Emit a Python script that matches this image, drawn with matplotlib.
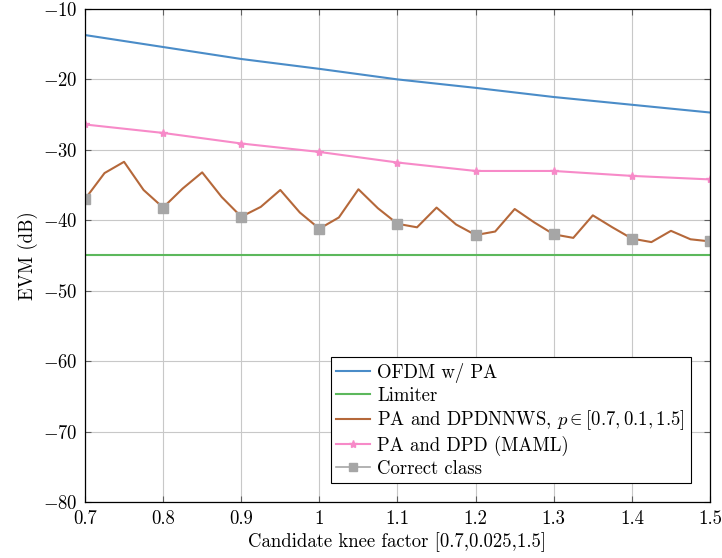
import numpy as np
import matplotlib
matplotlib.use("Agg")
import matplotlib.pyplot as plt
from matplotlib.lines import Line2D

plt.rcParams['font.family'] = 'serif'
plt.rcParams['font.serif'] = ['cmr10']
plt.rcParams['mathtext.fontset'] = 'cm'
plt.rcParams['axes.formatter.use_mathtext'] = True

# dane
knee_coarse = [0.7, 0.8, 0.9, 1.0, 1.1, 1.2, 1.3, 1.4, 1.5]
knee_fine = [0.7, 0.725, 0.75, 0.775, 0.8, 0.825, 0.85, 0.875, 0.9, 0.925, 0.95,
             0.975, 1.0, 1.025, 1.05, 1.075, 1.1, 1.125, 1.15, 1.175, 1.2, 1.225,
             1.25, 1.275, 1.3, 1.325, 1.35, 1.375, 1.4, 1.425, 1.45, 1.475, 1.5]

evm_ofdm_pa = [-13.7, -15.4, -17.1, -18.5, -20.0, -21.2, -22.5, -23.6, -24.7]
evm_limiter = [-45.0] * len(knee_coarse)
evm_dpdnnws = [-37.0, -33.3, -31.7, -35.7, -38.2, -35.5, -33.2, -36.7, -39.5, -38.1, -35.7,
               -38.9, -41.2, -39.6, -35.6, -38.3, -40.5, -41.0, -38.2, -40.6, -42.1, -41.6,
               -38.4, -40.3, -42.0, -42.5, -39.3, -41.0, -42.6, -43.1, -41.5, -42.7, -43.0]
evm_maml = [-26.4, -27.6, -29.1, -30.3, -31.8, -33.0, -33.0, -33.7, -34.2]
evm_correct = [-37.0, -38.2, -39.5, -41.2, -40.5, -42.1, -42.0, -42.6, -43.0]

fs = 13.5

fig = plt.figure(figsize=(7.22, 5.58), dpi=100)
ax = fig.add_axes([0.1177, 0.1004, 0.8657, 0.8835])

ax.plot(knee_coarse, evm_ofdm_pa, color='#4a8cc8', lw=1.5, label='OFDM w/ PA')
ax.plot(knee_coarse, evm_limiter, color='#5cb85c', lw=1.5, label='Limiter')
ax.plot(knee_fine, evm_dpdnnws, color='#b5683a', lw=1.5,
        label=r'PA and DPDNNWS, $p \in [0.7, 0.1, 1.5]$')
ax.plot(knee_coarse, evm_maml, color='#f78ac8', lw=1.5, marker='*', ms=6,
        label='PA and DPD (MAML)')
ax.plot(knee_coarse, evm_correct, color='#a6a6a6', ls='none', marker='s', ms=7,
        label='Correct class')

ax.set_xlim(0.7, 1.5)
ax.set_ylim(-80, -10)
ax.set_xticks(np.arange(0.7, 1.51, 0.1))
ax.set_xticklabels(['0.7', '0.8', '0.9', '1', '1.1', '1.2', '1.3', '1.4', '1.5'])
ax.set_yticks(np.arange(-80, -9, 10))
ax.grid(True, color='#c8c8c8', lw=0.8)
ax.set_axisbelow(True)
ax.tick_params(direction='in', top=True, right=True, length=4, color='#606060',
               labelsize=fs)
ax.tick_params(axis='x', pad=6)
ax.tick_params(axis='y', pad=5)
for s in ax.spines.values():
    s.set_linewidth(0.9)

ax.set_xlabel('Candidate knee factor [0.7,0.025,1.5]', fontsize=fs, labelpad=3)
ax.set_ylabel('EVM (dB)', fontsize=fs)

handles, labels = ax.get_legend_handles_labels()
handles[-1] = Line2D([], [], color='#a6a6a6', lw=1.2, marker='s', ms=6)
leg = ax.legend(handles, labels, loc='lower right', bbox_to_anchor=(0.975, 0.03),
                fontsize=fs, fancybox=False, edgecolor='black', framealpha=1,
                handlelength=1.8, borderpad=0.3, labelspacing=0.2,
                handletextpad=0.4, borderaxespad=0.2)
leg.get_frame().set_linewidth(0.8)

fig.savefig('out.png', dpi=100)
